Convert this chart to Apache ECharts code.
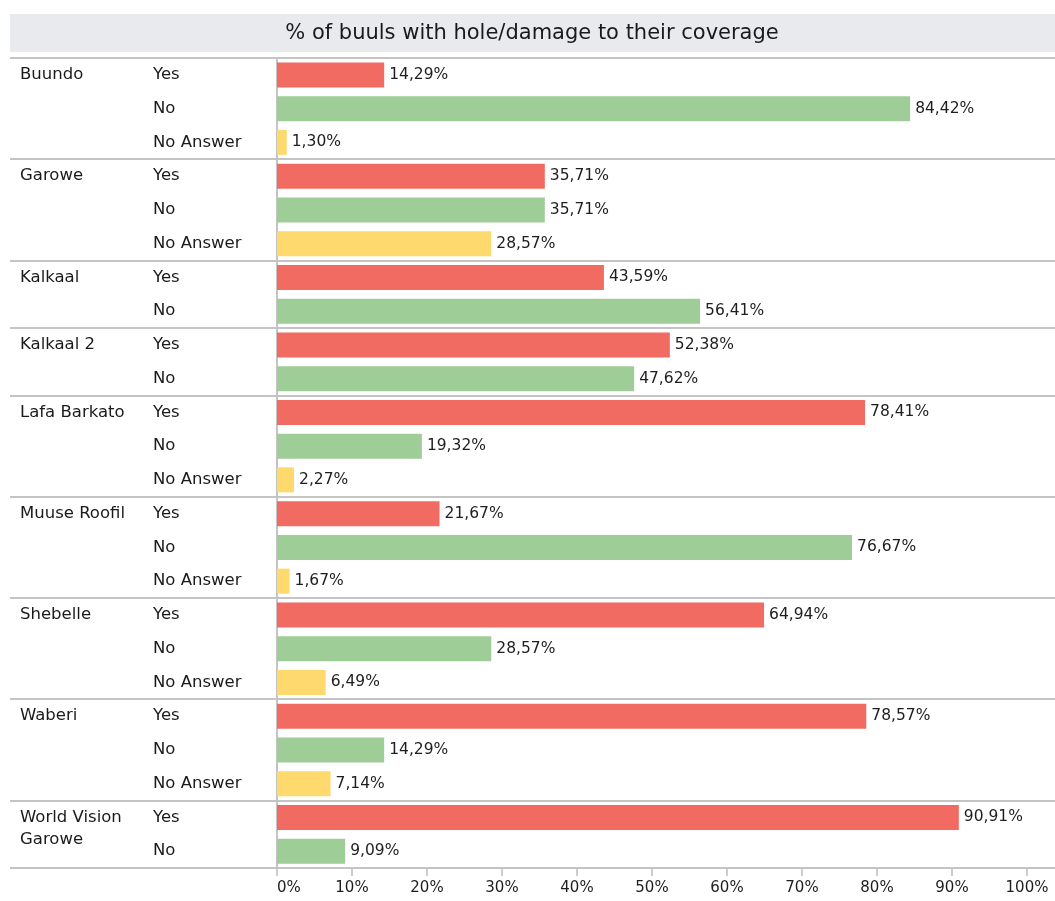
<!DOCTYPE html>
<html>
<head>
<meta charset="utf-8">
<script src="https://cdn.jsdelivr.net/npm/echarts@6/dist/echarts.min.js"></script>
<style>
html,body{margin:0;padding:0;background:#fff;}
#chart{width:1055px;height:901px;}
</style>
</head>
<body>
<div id="chart"></div>
<script>
const titleText = '% of buuls with hole/damage to their coverage';
const groups = ['Buundo', 'Garowe', 'Kalkaal', 'Kalkaal 2', 'Lafa Barkato', 'Muuse Roofil', 'Shebelle', 'Waberi', 'World Vision\nGarowe'];
const answers = ['Yes', 'No', 'No Answer'];
const yesValues = [14.29, 35.71, 43.59, 52.38, 78.41, 21.67, 64.94, 78.57, 90.91];
const noValues = [84.42, 35.71, 56.41, 47.62, 19.32, 76.67, 28.57, 14.29, 9.09];
const noAnswerValues = [1.30, 28.57, null, null, 2.27, 1.67, 6.49, 7.14, null];
const xTicks = [0, 10, 20, 30, 40, 50, 60, 70, 80, 90, 100];

const colors = { 'Yes': '#f26b62', 'No': '#9fcd98', 'No Answer': '#fed96d' };
const FONT = 'DejaVu Sans';

// Build rows
const rowAnswers = [];
const rowGroups = [];
const yesData = [], noData = [], naData = [];
const boundaries = [];
groups.forEach((g, gi) => {
  const vals = [yesValues[gi], noValues[gi], noAnswerValues[gi]];
  let first = true;
  answers.forEach((a, ai) => {
    const v = vals[ai];
    if (v === null || v === undefined) return;
    const idx = rowAnswers.length;
    if (first) {
      boundaries.push([0, idx, -1]);
      const label = g.indexOf('\n') >= 0 ? '\n' + g : g;
      rowGroups.push(label);
      first = false;
    } else {
      rowGroups.push('');
    }
    rowAnswers.push(a);
    yesData.push(ai === 0 ? v : '-');
    noData.push(ai === 1 ? v : '-');
    naData.push(ai === 2 ? v : '-');
  });
});
boundaries.push([0, rowAnswers.length - 1, 1]);

const fmt = p => p.value.toFixed(2).replace('.', ',') + '%';

function barSeries(name, data) {
  return {
    name: name,
    type: 'bar',
    stack: 'all',
    yAxisIndex: 0,
    data: data,
    barWidth: 25,
    itemStyle: { color: colors[name] },
    label: {
      show: true,
      position: 'right',
      distance: 5,
      formatter: fmt,
      color: '#1e1e1e',
      fontFamily: FONT,
      fontSize: 15.5
    },
    emphasis: { disabled: true },
    silent: true
  };
}

const chart = echarts.init(document.getElementById('chart'), null, { renderer: 'canvas' });
chart.setOption({
  animation: false,
  backgroundColor: '#ffffff',
  graphic: [
    { type: 'rect', shape: { x: 10, y: 14, width: 1045, height: 38 }, style: { fill: '#e9eaee' }, z: 0 },
    { type: 'text', x: 532, y: 34, style: { text: titleText, fontFamily: FONT, fontSize: 21, fill: '#1a1a1a', align: 'center', verticalAlign: 'middle' }, z: 1 }
  ],
  grid: { left: 277, right: 28, top: 58, bottom: 33, containLabel: false },
  xAxis: {
    type: 'value',
    min: 0,
    max: 100,
    interval: 10,
    axisLine: { show: false },
    axisTick: { show: true, length: 8, lineStyle: { color: '#bdbdbd', width: 1.5 } },
    splitLine: { show: false },
    axisLabel: {
      margin: 13,
      alignMinLabel: 'left',
      formatter: v => xTicks.indexOf(v) >= 0 ? v + '%' : '',
      color: '#1e1e1e',
      fontFamily: FONT,
      fontSize: 15
    }
  },
  yAxis: [
    {
      type: 'category',
      inverse: true,
      data: rowAnswers,
      axisLine: { show: true, lineStyle: { color: '#c4c4c4', width: 2 } },
      axisTick: { show: false },
      splitLine: { show: false },
      axisLabel: {
        interval: 0,
        align: 'left',
        margin: 124,
        color: '#1a1a1a',
        fontFamily: FONT,
        fontSize: 16.5
      }
    },
    {
      type: 'category',
      inverse: true,
      position: 'left',
      data: rowGroups,
      axisLine: { show: false },
      axisTick: { show: false },
      splitLine: { show: false },
      axisLabel: {
        interval: 0,
        align: 'left',
        margin: 257,
        lineHeight: 22,
        color: '#1a1a1a',
        fontFamily: FONT,
        fontSize: 16.5
      }
    }
  ],
  series: [
    barSeries('Yes', yesData),
    barSeries('No', noData),
    barSeries('No Answer', naData),
    {
      type: 'custom',
      yAxisIndex: 0,
      silent: true,
      clip: false,
      z: 5,
      data: boundaries,
      encode: { x: 0, y: 1 },
      renderItem: function (params, api) {
        const c = api.coord([0, api.value(1)]);
        const h = api.size([0, 1])[1];
        const y = Math.round(c[1] + api.value(2) * h / 2);
        return {
          type: 'line',
          shape: { x1: 10, y1: y, x2: api.getWidth(), y2: y },
          style: { stroke: '#c4c4c4', lineWidth: 2 }
        };
      }
    }
  ]
});
</script>
</body>
</html>
